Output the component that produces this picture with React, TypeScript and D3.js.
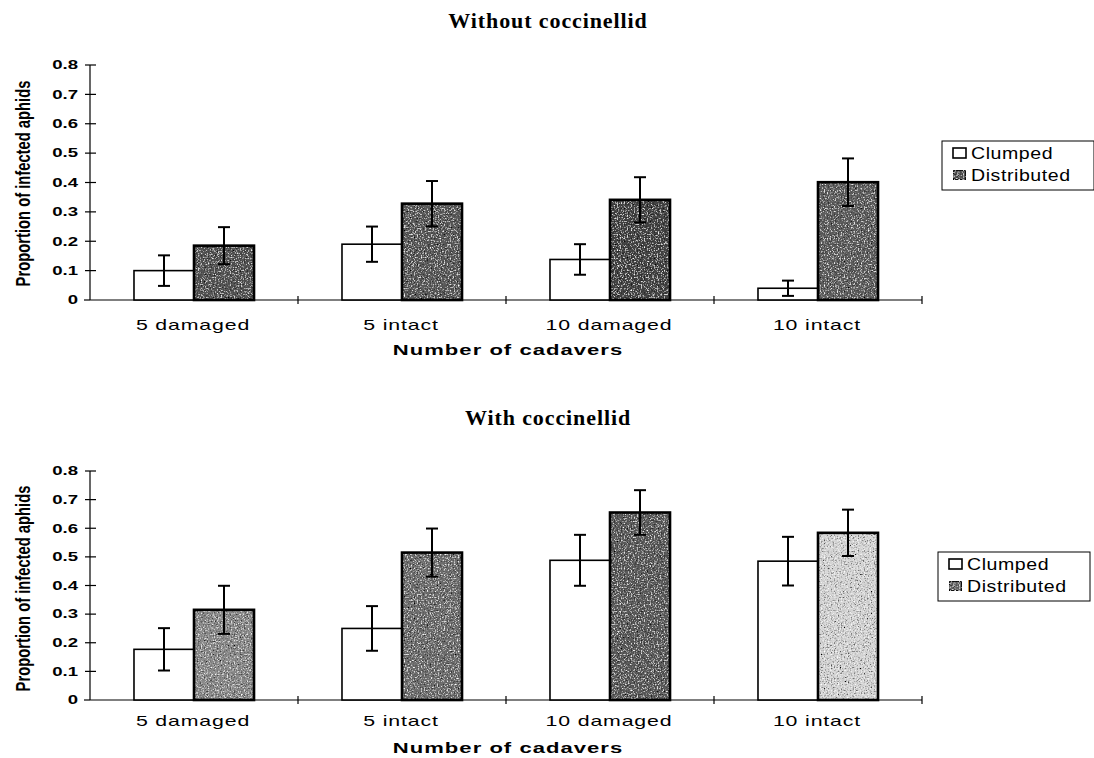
import React, { useEffect, useRef } from "react";
import * as d3 from "d3";

const categories = ["5 damaged", "5 intact", "10 damaged", "10 intact"];
const seriesNames = ["Clumped", "Distributed"];
const yTicks = [0, 0.1, 0.2, 0.3, 0.4, 0.5, 0.6, 0.7, 0.8];

// Without coccinellid
const withoutClumped = [0.1, 0.19, 0.138, 0.04];
const withoutClumpedErr = [0.052, 0.06, 0.052, 0.026];
const withoutDistributed = [0.185, 0.328, 0.341, 0.401];
const withoutDistributedErr = [0.063, 0.077, 0.077, 0.081];

// With coccinellid
const withClumped = [0.177, 0.25, 0.488, 0.485];
const withClumpedErr = [0.074, 0.078, 0.089, 0.085];
const withDistributed = [0.315, 0.515, 0.655, 0.584];
const withDistributedErr = [0.084, 0.084, 0.078, 0.081];

// grey shades of the stippled bars (style only)
const shadeWithout = ["#555555", "#5a5a5a", "#454545", "#5e5e5e"];
const shadeWith = ["#8a8a8a", "#6e6e6e", "#5c5c5c", "#d4d4d4"];

const SANS = "'Liberation Sans', Arial, sans-serif";

export default function App() {
  const ref = useRef<SVGSVGElement>(null);

  useEffect(() => {
    if (!ref.current) return;
    const svg = d3.select(ref.current);
    svg.selectAll("*").remove();

    // stipple texture
    const defs = svg.append("defs");
    const f = defs.append("filter").attr("id", "speckle")
      .attr("x", 0).attr("y", 0).attr("width", 1).attr("height", 1);
    f.append("feTurbulence").attr("type", "fractalNoise").attr("baseFrequency", 0.7)
      .attr("numOctaves", 2).attr("seed", 4).attr("result", "n");
    f.append("feColorMatrix").attr("in", "n").attr("type", "matrix")
      .attr("values", "0 0 0 0 1  0 0 0 0 1  0 0 0 0 1  3.2 0 0 0 -1.75").attr("result", "light");
    f.append("feColorMatrix").attr("in", "n").attr("type", "matrix")
      .attr("values", "0 0 0 0 0  0 0 0 0 0  0 0 0 0 0  -3.2 0 0 0 1.5").attr("result", "dark");
    f.append("feComposite").attr("in", "light").attr("in2", "SourceGraphic").attr("operator", "in").attr("result", "l2");
    f.append("feComposite").attr("in", "dark").attr("in2", "SourceGraphic").attr("operator", "in").attr("result", "d2");
    const m = f.append("feMerge");
    m.append("feMergeNode").attr("in", "SourceGraphic");
    m.append("feMergeNode").attr("in", "l2");
    m.append("feMergeNode").attr("in", "d2");

    const panels = [
      { title: "Without coccinellid", titleY: 28, y0: 300, y1: 65, clumped: withoutClumped, cErr: withoutClumpedErr,
        dist: withoutDistributed, dErr: withoutDistributedErr, shades: shadeWithout, legendY: 141, legendX: 942, labOff: 0 },
      { title: "With coccinellid", titleY: 425, y0: 700, y1: 471, clumped: withClumped, cErr: withClumpedErr,
        dist: withDistributed, dErr: withDistributedErr, shades: shadeWith, legendY: 552, legendX: 938, labOff: 4 },
    ];

    const x = d3.scaleBand<string>().domain(categories).range([90, 922]).paddingInner(0).paddingOuter(0);
    const xs = d3.scaleBand<string>().domain(seriesNames).range([0, x.bandwidth()]).paddingInner(0).paddingOuter(0.733);

    panels.forEach((p) => {
      const y = d3.scaleLinear().domain([0, 0.8]).range([p.y0, p.y1]);
      const g = svg.append("g");

      g.append("text").attr("x", 548).attr("y", p.titleY).attr("text-anchor", "middle")
        .style("font-family", "'Liberation Serif', 'DejaVu Serif', serif").style("font-weight", "bold")
        .style("font-size", "22px").style("letter-spacing", "0.9px").text(p.title);

      // y axis
      g.append("line").attr("x1", 90).attr("x2", 90).attr("y1", y(0.8)).attr("y2", y(0))
        .attr("stroke", "#000").attr("stroke-width", 1.2);
      yTicks.forEach((t) => {
        g.append("line").attr("x1", t === 0 ? 84 : 85).attr("x2", t === 0 ? 90 : 96).attr("y1", y(t)).attr("y2", y(t))
          .attr("stroke", "#000").attr("stroke-width", 1.2);
        g.append("text").attr("transform", `translate(78,${y(t)}) scale(1.55,1)`).attr("dy", "0.36em")
          .attr("text-anchor", "end")
          .style("font-family", SANS).style("font-weight", "bold")
          .style("font-size", "12px").text(t === 0 ? "0" : t.toFixed(1));
      });

      // x axis
      g.append("line").attr("x1", 90).attr("x2", 922).attr("y1", y(0)).attr("y2", y(0))
        .attr("stroke", "#000").attr("stroke-width", 1.2);
      x.domain().forEach((c) => {
        const xt = (x(c) as number) + x.bandwidth();
        g.append("line").attr("x1", xt).attr("x2", xt).attr("y1", y(0) - 4).attr("y2", y(0) + 4)
          .attr("stroke", "#000").attr("stroke-width", 1.2);
      });

      g.selectAll(".cat").data(categories).enter().append("text")
        .attr("transform", (d) => `translate(${(x(d) as number) + x.bandwidth() / 2 - 1},${y(0) + 30 - p.labOff}) scale(1.42,1)`)
        .attr("text-anchor", "middle")
        .style("font-family", SANS).style("font-size", "15px")
        .style("letter-spacing", "0.6px").text((d) => d);

      g.append("text").attr("transform", `translate(508,${y(0) + 55 - p.labOff / 2}) scale(1.47,1)`)
        .attr("text-anchor", "middle")
        .style("font-family", SANS).style("font-weight", "bold")
        .style("font-size", "15px").style("letter-spacing", "0.7px").text("Number of cadavers");

      const yMid = (y(0) + y(0.8)) / 2 + 1 + p.labOff / 2;
      g.append("text").attr("transform", `translate(30,${yMid}) rotate(-90) scale(0.72,1)`).attr("text-anchor", "middle")
        .style("font-family", SANS)
        .style("font-weight", "bold").style("font-size", "20.5px").text("Proportion of infected aphids");

      // bars
      categories.forEach((c, i) => {
        const cx = x(c) as number;
        const xc = cx + (xs("Clumped") as number);
        const xd = cx + (xs("Distributed") as number);
        const w = xs.bandwidth();

        g.append("rect").attr("x", xc).attr("y", y(p.clumped[i])).attr("width", w)
          .attr("height", y(0) - y(p.clumped[i])).attr("fill", "#fff").attr("stroke", "#000").attr("stroke-width", 1.6);
        g.append("rect").attr("x", xd).attr("y", y(p.dist[i])).attr("width", w)
          .attr("height", y(0) - y(p.dist[i])).attr("fill", p.shades[i]).attr("filter", "url(#speckle)");
        g.append("rect").attr("x", xd).attr("y", y(p.dist[i])).attr("width", w)
          .attr("height", y(0) - y(p.dist[i])).attr("fill", "none").attr("stroke", "#000").attr("stroke-width", 2.6);

        const errs = [
          { xm: xc + w / 2, v: p.clumped[i], e: p.cErr[i] },
          { xm: xd + w / 2, v: p.dist[i], e: p.dErr[i] },
        ];
        errs.forEach((eb) => {
          const lo = Math.max(0, eb.v - eb.e);
          const hi = eb.v + eb.e;
          g.append("line").attr("x1", eb.xm).attr("x2", eb.xm).attr("y1", y(lo)).attr("y2", y(hi))
            .attr("stroke", "#000").attr("stroke-width", 2);
          [lo, hi].forEach((v) => {
            g.append("line").attr("x1", eb.xm - 6).attr("x2", eb.xm + 6).attr("y1", y(v)).attr("y2", y(v))
              .attr("stroke", "#000").attr("stroke-width", 2);
          });
        });
      });

      // legend
      const lg = g.append("g").attr("transform", `translate(${p.legendX},${p.legendY})`);
      lg.append("rect").attr("x", 0).attr("y", 0).attr("width", 152).attr("height", 49)
        .attr("fill", "#fff").attr("stroke", "#000").attr("stroke-width", 1);
      seriesNames.forEach((s, k) => {
        const ly = 12 + k * 22;
        lg.append("rect").attr("x", 11).attr("y", ly - 5).attr("width", 13).attr("height", 10)
          .attr("fill", k === 0 ? "#fff" : p.shades[1]).attr("stroke", "#000").attr("stroke-width", 1.6)
          .attr("filter", k === 0 ? null : "url(#speckle)");
        lg.append("text").attr("transform", `translate(29,${ly}) scale(1.15,1)`).attr("dy", "0.36em")
          .style("font-family", SANS).style("font-size", "17px").style("letter-spacing", "0.5px").text(s);
      });
    });
  }, []);

  return (
    <svg ref={ref} width={1094} height={758}
      style={{ position: "absolute", left: 0, top: 0, background: "#fff" }} />
  );
}
